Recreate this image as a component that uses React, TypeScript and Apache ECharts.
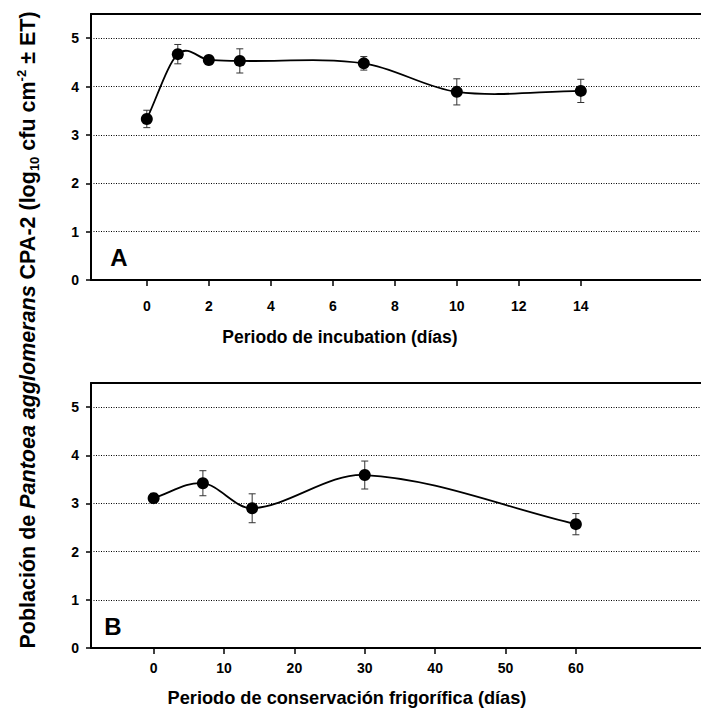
import React, { useEffect, useRef } from "react";
import * as echarts from "echarts";

const daysA = [0, 1, 2, 3, 7, 10, 14];
const popA = [3.33, 4.67, 4.55, 4.53, 4.48, 3.89, 3.91];
const errA = [0.18, 0.2, 0.03, 0.25, 0.14, 0.27, 0.24];

const daysB = [0, 7, 14, 30, 60];
const popB = [3.11, 3.42, 2.9, 3.59, 2.57];
const errB = [0.1, 0.26, 0.3, 0.29, 0.22];

const ticksA = [0, 2, 4, 6, 8, 10, 12, 14];
const ticksB = [0, 10, 20, 30, 40, 50, 60];
const ticksY = [0, 1, 2, 3, 4, 5];

const FONT = "'Liberation Sans', Arial, sans-serif";

// finite-difference (Catmull-Rom style) tangents for the smooth connecting curve
function curveSlopes(xs: number[], ys: number[]): number[] {
  const n = xs.length;
  const s: number[] = [];
  for (let i = 0; i < n; i++) {
    if (i === 0) s.push((ys[1] - ys[0]) / (xs[1] - xs[0]));
    else if (i === n - 1) s.push((ys[n - 1] - ys[n - 2]) / (xs[n - 1] - xs[n - 2]));
    else s.push((ys[i + 1] - ys[i - 1]) / (xs[i + 1] - xs[i - 1]));
  }
  return s;
}

export default function App() {
  const ref = useRef<HTMLDivElement>(null);
  useEffect(() => {
    if (!ref.current) return;
    const chart = echarts.init(ref.current, null, { renderer: "svg" });

    const errItem = (params: any, api: any) => {
      const x = api.value(0);
      const lo = api.value(1);
      const hi = api.value(2);
      const p1 = api.coord([x, hi]);
      const p2 = api.coord([x, lo]);
      const w = 3.5;
      const st = { stroke: "#333", lineWidth: 1 };
      return {
        type: "group",
        children: [
          { type: "line", shape: { x1: p1[0], y1: p1[1], x2: p2[0], y2: p2[1] }, style: st },
          { type: "line", shape: { x1: p1[0] - w, y1: p1[1], x2: p1[0] + w, y2: p1[1] }, style: st },
          { type: "line", shape: { x1: p2[0] - w, y1: p2[1], x2: p2[0] + w, y2: p2[1] }, style: st },
        ],
      };
    };

    const curveItem = (xs: number[], ys: number[]) => {
      const m = curveSlopes(xs, ys);
      return (params: any, api: any) => {
        const i = params.dataIndex;
        if (i >= xs.length - 1) return { type: "group", children: [] };
        const hh = xs[i + 1] - xs[i];
        const p0 = api.coord([xs[i], ys[i]]);
        const p3 = api.coord([xs[i + 1], ys[i + 1]]);
        const c1 = api.coord([xs[i] + hh / 3, ys[i] + (m[i] * hh) / 3]);
        const c2 = api.coord([xs[i + 1] - hh / 3, ys[i + 1] - (m[i + 1] * hh) / 3]);
        return {
          type: "bezierCurve",
          shape: { x1: p0[0], y1: p0[1], x2: p3[0], y2: p3[1], cpx1: c1[0], cpy1: c1[1], cpx2: c2[0], cpy2: c2[1] },
          style: { stroke: "#000", lineWidth: 1.8, fill: "none" },
        };
      };
    };

    const yAxisCommon = (gridIndex: number) => ({
      type: "value",
      gridIndex,
      min: 0,
      max: 5.5,
      interval: 1,
      axisLine: { show: true, onZero: false, lineStyle: { color: "#000", width: 2 } },
      axisTick: { show: true, length: 5, customValues: ticksY, lineStyle: { color: "#000", width: 1.5 } },
      axisLabel: {
        customValues: ticksY,
        margin: 12,
        color: "#000",
        fontWeight: "bold",
        fontSize: 14,
        fontFamily: FONT,
      },
      splitLine: { show: true, lineStyle: { color: "#000", width: 1, type: [1, 1.5] } },
    });

    const xAxisCommon = (gridIndex: number, min: number, max: number, ticks: number[], margin: number) => ({
      type: "value",
      gridIndex,
      min,
      max,
      axisLine: { show: true, onZero: false, lineStyle: { color: "#000", width: 2 } },
      axisTick: { show: true, length: 6, customValues: ticks, lineStyle: { color: "#000", width: 1.5 } },
      axisLabel: {
        customValues: ticks,
        margin,
        color: "#000",
        fontWeight: "bold",
        fontSize: 14,
        fontFamily: FONT,
      },
      splitLine: { show: false },
    });

    const xAxisTop = (gridIndex: number, min: number, max: number) => ({
      type: "value",
      gridIndex,
      position: "top",
      min,
      max,
      axisLine: { show: true, onZero: false, lineStyle: { color: "#000", width: 2 } },
      axisTick: { show: false },
      axisLabel: { show: false },
      splitLine: { show: false },
    });

    const ylabel =
      "{a|Población de }{i|Pantoea agglomerans}{a| CPA-2 (log}{sub|10}{a| cfu cm}{sup|-2}{a| ± ET)}";

    chart.setOption({
      animation: false,
      backgroundColor: "#fff",
      grid: [
        { left: 91, top: 14, width: 620, height: 266, outerBoundsMode: "none", containLabel: false },
        { left: 91, top: 383, width: 620, height: 265, outerBoundsMode: "none", containLabel: false },
      ],
      xAxis: [
        xAxisCommon(0, -1.8, 18.2, ticksA, 19),
        xAxisCommon(1, -8.9, 79.2, ticksB, 13),
        xAxisTop(0, -1.8, 18.2),
        xAxisTop(1, -8.9, 79.2),
      ],
      yAxis: [yAxisCommon(0), yAxisCommon(1)],
      series: [
        {
          type: "custom",
          xAxisIndex: 0,
          yAxisIndex: 0,
          z: 1,
          renderItem: errItem,
          data: daysA.map((d, i) => [d, popA[i] - errA[i], popA[i] + errA[i]]),
        },
        {
          type: "custom",
          xAxisIndex: 0,
          yAxisIndex: 0,
          z: 2,
          renderItem: curveItem(daysA, popA),
          data: daysA.map((d, i) => [d, popA[i]]),
        },
        {
          type: "scatter",
          xAxisIndex: 0,
          yAxisIndex: 0,
          z: 3,
          symbol: "circle",
          symbolSize: 12,
          itemStyle: { color: "#000", opacity: 1 },
          data: daysA.map((d, i) => [d, popA[i]]),
        },
        {
          type: "custom",
          xAxisIndex: 1,
          yAxisIndex: 1,
          z: 1,
          renderItem: errItem,
          data: daysB.map((d, i) => [d, popB[i] - errB[i], popB[i] + errB[i]]),
        },
        {
          type: "custom",
          xAxisIndex: 1,
          yAxisIndex: 1,
          z: 2,
          renderItem: curveItem(daysB, popB),
          data: daysB.map((d, i) => [d, popB[i]]),
        },
        {
          type: "scatter",
          xAxisIndex: 1,
          yAxisIndex: 1,
          z: 3,
          symbol: "circle",
          symbolSize: 12,
          itemStyle: { color: "#000", opacity: 1 },
          data: daysB.map((d, i) => [d, popB[i]]),
        },
      ],
      graphic: [
        {
          type: "text",
          x: 119,
          y: 257,
          style: { text: "A", font: `bold 24px ${FONT}`, fill: "#000", textAlign: "center", textVerticalAlign: "middle" },
        },
        {
          type: "text",
          x: 113,
          y: 626,
          style: { text: "B", font: `bold 24px ${FONT}`, fill: "#000", textAlign: "center", textVerticalAlign: "middle" },
        },
        {
          type: "text",
          x: 340,
          y: 337,
          style: {
            text: "Periodo de incubation (días)",
            font: `bold 17.5px ${FONT}`,
            fill: "#000",
            textAlign: "center",
            textVerticalAlign: "middle",
          },
        },
        {
          type: "text",
          x: 347,
          y: 698,
          style: {
            text: "Periodo de conservación frigorífica (días)",
            font: `bold 18.2px ${FONT}`,
            fill: "#000",
            textAlign: "center",
            textVerticalAlign: "middle",
          },
        },
        {
          type: "text",
          x: 28,
          y: 330,
          rotation: Math.PI / 2,
          style: {
            text: ylabel,
            textAlign: "center",
            textVerticalAlign: "middle",
            fill: "#000",
            rich: {
              a: { fontFamily: FONT, fontWeight: "bold", fontSize: 21.5, lineHeight: 26, fill: "#000" },
              i: { fontFamily: FONT, fontWeight: "bold", fontStyle: "italic", fontSize: 21.5, lineHeight: 26, fill: "#000" },
              sub: { fontFamily: FONT, fontWeight: "bold", fontSize: 13, lineHeight: 13, verticalAlign: "bottom", fill: "#000" },
              sup: { fontFamily: FONT, fontWeight: "bold", fontSize: 13, lineHeight: 13, verticalAlign: "top", fill: "#000" },
            },
          },
        },
      ],
    });
    return () => chart.dispose();
  }, []);
  return (
    <div
      ref={ref}
      style={{ position: "absolute", left: 0, top: 0, width: 701, height: 718 }}
    />
  );
}
